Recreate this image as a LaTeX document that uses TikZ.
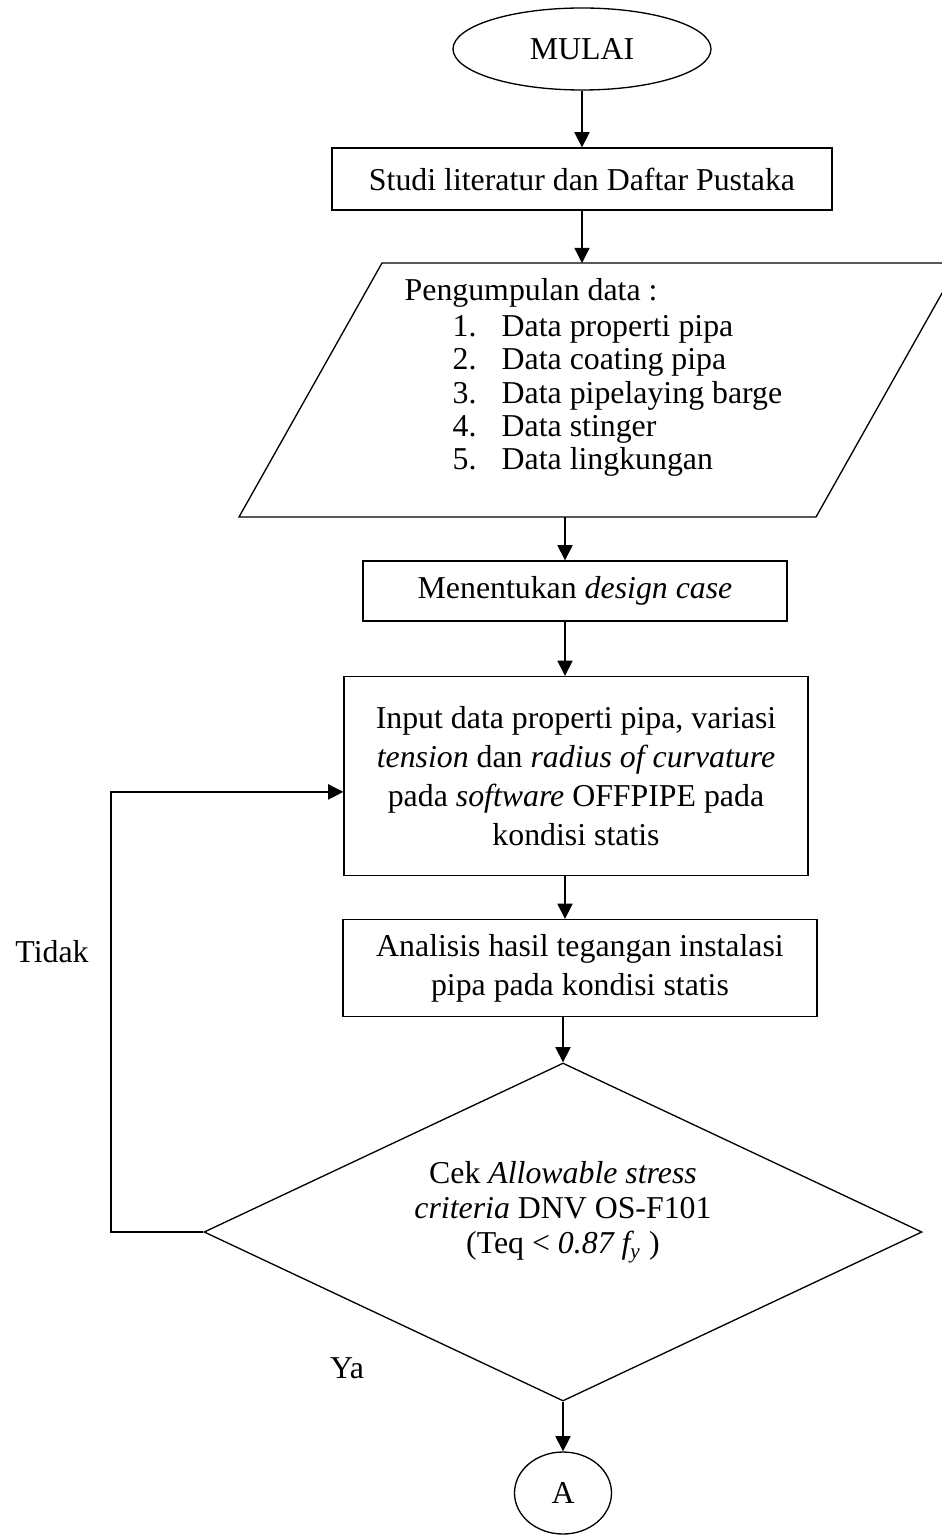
\documentclass[tikz,border=0pt]{standalone}
\usepackage{fontspec}
\setmainfont{Liberation Serif}
\usetikzlibrary{shapes.geometric,arrows.meta}
\newcommand{\pix}[1]{#1*0.377pt}
\tikzstyle{procbox} = [rectangle, draw=black, inner sep=0pt,
                    align=center, font=\fontsize{12}{14.8}\selectfont]
\tikzstyle{startstop} = [ellipse, draw=black, inner sep=0pt,
                    font=\fontsize{12}{14}\selectfont]
\tikzstyle{decision} = [diamond, draw=black, inner sep=0pt]
\tikzstyle{plain} = [inner sep=0pt, font=\fontsize{12}{14}\selectfont]

\begin{document}
\begin{tikzpicture}[x=0.377pt, y=-0.377pt,
                      >={Triangle[length=5.7pt,width=5.7pt]},
                      line width=0.5pt]
    \useasboundingbox (0,0) rectangle (941,1537);
    \node (mulai) [startstop, minimum width=\pix{258}, minimum height=\pix{82}] at (582,49) {MULAI};
    \node (studi) [procbox, minimum width=\pix{500}, minimum height=\pix{62}] at (582,179) {Studi literatur dan Daftar Pustaka};
    % input data (parallelogram)
    \coordinate (dtl) at (382,263);
    \coordinate (dtr) at (959,263);
    \coordinate (dbr) at (816,517);
    \coordinate (dbl) at (239,517);
    \draw (dtl) -- (dtr) -- (dbr) -- (dbl) -- cycle;
    \node (datalist) [plain, anchor=north west, align=left, font=\fontsize{12}{12.6}\selectfont] at (404,278)
      {Pengumpulan data :\\[0.8pt]
       \hspace*{18.1pt}\makebox[18.5pt][l]{1.}Data properti pipa\\
       \hspace*{18.1pt}\makebox[18.5pt][l]{2.}Data coating pipa\\
       \hspace*{18.1pt}\makebox[18.5pt][l]{3.}Data pipelaying barge\\
       \hspace*{18.1pt}\makebox[18.5pt][l]{4.}Data stinger\\
       \hspace*{18.1pt}\makebox[18.5pt][l]{5.}Data lingkungan};
    \node (tentukan) [procbox, minimum width=\pix{424}, minimum height=\pix{60}] at (575,591) {Menentukan \textit{design case}};
    \node (input) [procbox, minimum width=\pix{464}, minimum height=\pix{199}] at (576,776)
      {Input data properti pipa, variasi\\ \textit{tension} dan \textit{radius of curvature}\\ pada \textit{software} OFFPIPE pada\\ kondisi statis};
    \node (analisis) [procbox, minimum width=\pix{474}, minimum height=\pix{97}] at (580,968)
      {Analisis hasil tegangan instalasi\\ pipa pada kondisi statis};
    \node (cek) [decision, minimum width=\pix{718}, minimum height=\pix{338}] at (563,1232) {};
    \node (cektext) [plain, align=center, font=\fontsize{12}{13.2}\selectfont] at (563,1212)
      {Cek \textit{Allowable stress}\\ \textit{criteria} DNV OS-F101\\ (Teq < \textit{0.87 f\textsubscript{y}} )};
    \node (a) [startstop, minimum width=\pix{97}, minimum height=\pix{82}] at (563,1493) {A};
    \node (tidak) [plain] at (52,952) {Tidak};
    \node (ya) [plain] at (347,1368) {Ya};
    % arrow column and loop
    \coordinate (spine) at (565,0);
    \coordinate (loop) at (111,0);
    \coordinate (inhook) at ([yshift=-6pt]input.west);
    \draw[->] (mulai) -- (studi);
    \draw[->] (studi.south) -- (studi.south |- dtl);
    \draw[->] (dbl -| spine) -- (tentukan.north -| spine);
    \draw[->] (tentukan.south -| spine) -- (input.north -| spine);
    \draw[->] (input.south -| spine) -- (analisis.north -| spine);
    \draw[->] (analisis.south -| cek.north) -- (cek.north);
    \draw[->] (cek.south) -- (a.north);
    \draw[->] (cek.west) -- (cek.west -| loop) -- (loop |- inhook) -- (inhook);
\end{tikzpicture}
\end{document}
